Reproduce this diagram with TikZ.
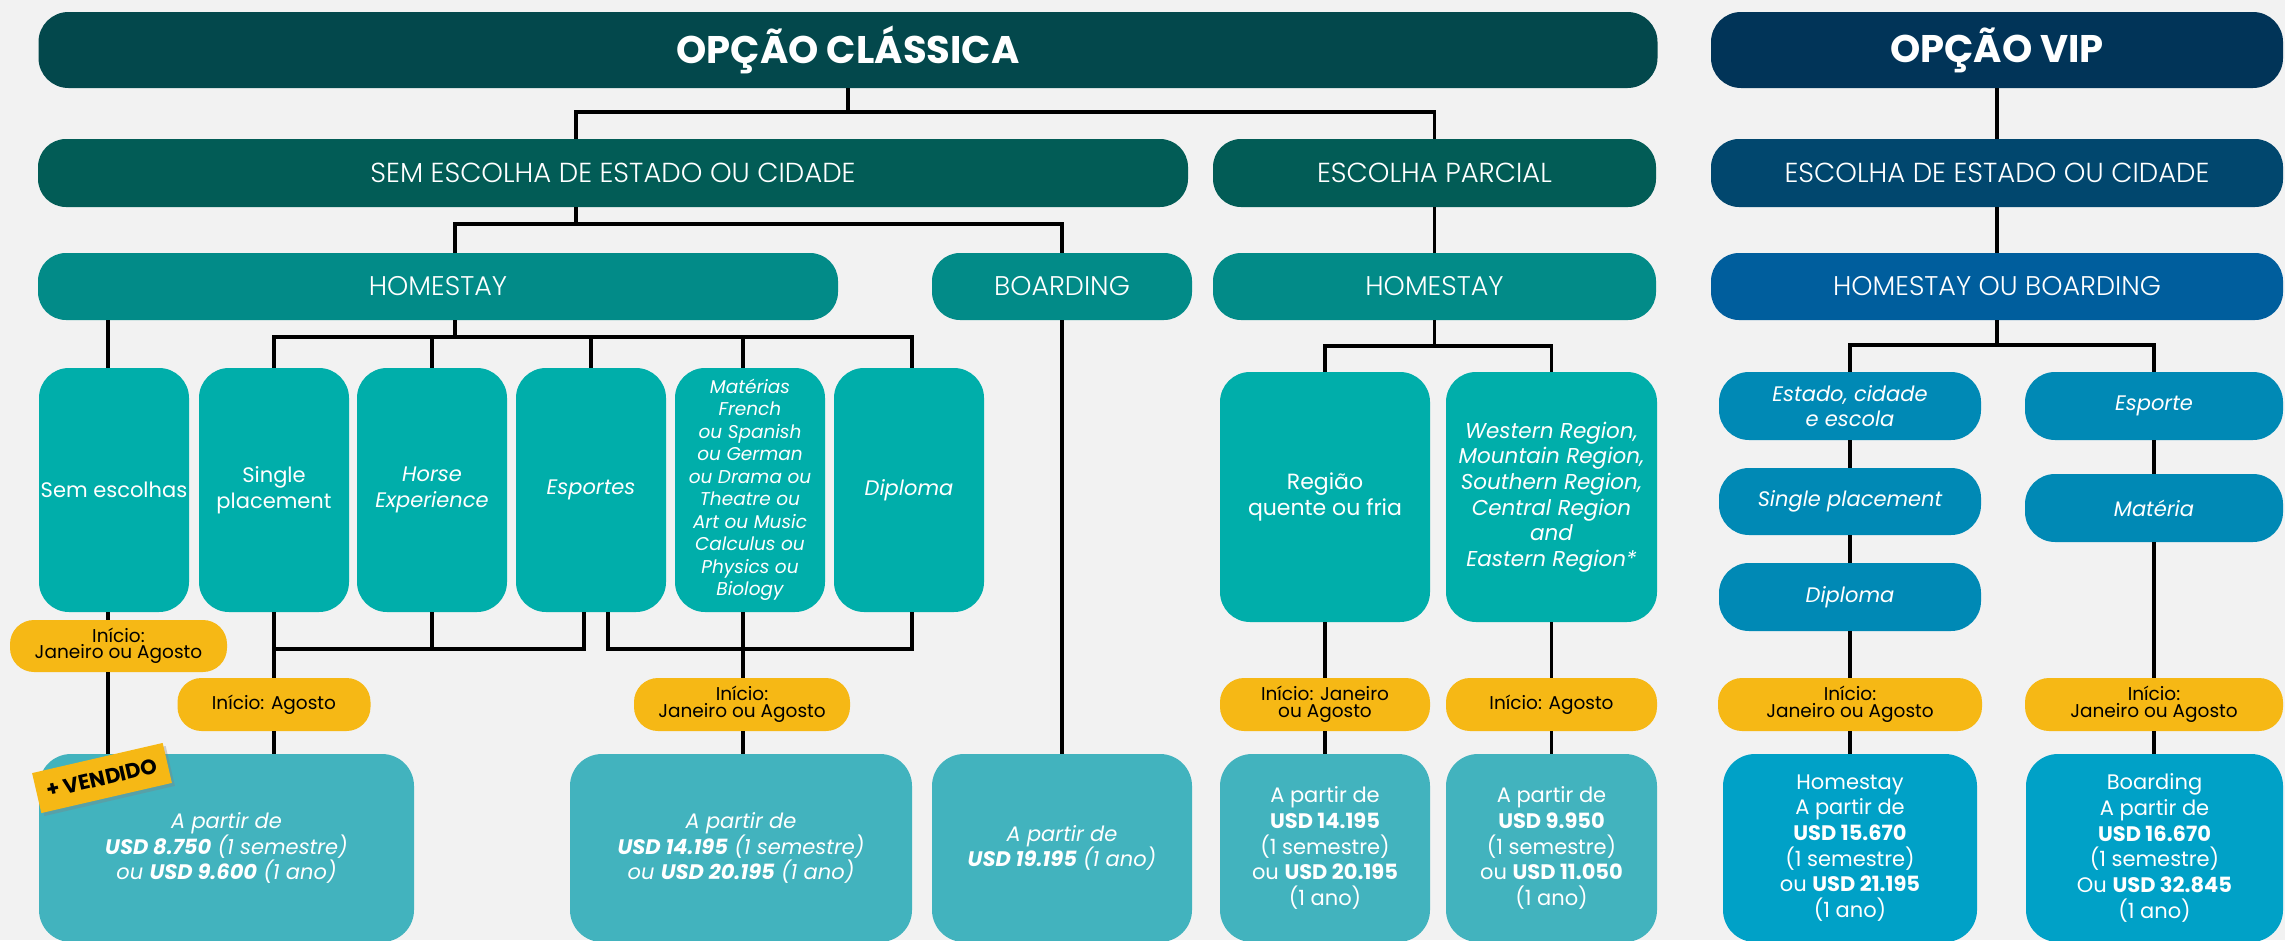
\documentclass[tikz,border=0pt]{standalone}
\usepackage{fontspec}
\setmainfont{Poppins}
\newfontfamily\plight{Poppins Light}
\usetikzlibrary{shadows}
\definecolor{bgc}{HTML}{F2F2F2}
\definecolor{ctop}{HTML}{03484C}
\definecolor{cviptop}{HTML}{013458}
\definecolor{crow2}{HTML}{025C56}
\definecolor{cvip2}{HTML}{01476E}
\definecolor{crow3}{HTML}{028B88}
\definecolor{cvip3}{HTML}{005E9D}
\definecolor{crow4}{HTML}{00AEAA}
\definecolor{cvip4}{HTML}{0089B5}
\definecolor{cyel}{HTML}{F6B815}
\definecolor{cprice}{HTML}{42B3BE}
\definecolor{cvipprice}{HTML}{00A1C7}
\tikzset{
  bx/.style={rectangle, inner sep=0pt, text=white, align=center},
  topbar/.style={bx, rounded corners=30pt, minimum height=76pt, font=\fontsize{38.5}{42}\selectfont\bfseries},
  lvl/.style={bx, rounded corners=28pt, minimum height=68pt, font=\plight\fontsize{27.5}{31}\selectfont},
  lvlb/.style={lvl, minimum height=67pt, font=\plight\fontsize{27}{30}\selectfont},
  tall/.style={bx, fill=crow4, rounded corners=30pt, minimum height=244pt, minimum width=150pt, font=\fontsize{21}{25.5}\selectfont},
  tallit/.style={font=\fontsize{21}{25.5}\selectfont\itshape},
  vsm/.style={bx, fill=cvip4, rounded corners=30pt, minimum height=68pt, font=\fontsize{21}{25.7}\selectfont\itshape},
  yel/.style={bx, fill=cyel, text=black, rounded corners=24pt, minimum height=53pt, font=\fontsize{18.5}{16.5}\selectfont},
  price/.style={bx, fill=cprice, rounded corners=32pt, minimum height=188pt, font=\fontsize{21}{25.7}\selectfont},
  priceit/.style={font=\fontsize{21}{25.7}\selectfont\itshape},
  vprice/.style={price, fill=cvipprice},
  ln/.style={line width=3.5pt, black},
  tagbox/.style={rectangle, fill=cyel, text=black, inner sep=0pt, minimum width=134pt, minimum height=41pt, font=\fontsize{21}{24}\selectfont\bfseries, drop shadow={shadow xshift=3pt, shadow yshift=-3pt, opacity=0.35}}
}
\begin{document}
\begin{tikzpicture}[x=1pt,y=-1pt]
\fill[bgc] (0,0) rectangle (2285,940);
\clip (0,0) rectangle (2285,940);

% row 1
\node[topbar, fill=ctop, minimum width=1619pt] (cla) at (848,50) {OPÇÃO CLÁSSICA};
\node[topbar, fill=cviptop, minimum width=572pt] (vip) at (1997,50) {OPÇÃO VIP};

% row 2
\node[lvl, fill=crow2, minimum width=1150pt] (sem) at (613,173) {SEM ESCOLHA DE ESTADO OU CIDADE};
\node[lvl, fill=crow2, minimum width=443pt] (parc) at (1434.5,173) {ESCOLHA PARCIAL};
\node[lvl, fill=cvip2, minimum width=572pt] (vest) at (1997,173) {ESCOLHA DE ESTADO OU CIDADE};

% row 3
\node[lvlb, fill=crow3, minimum width=800pt] (home) at (438,286.5) {HOMESTAY};
\node[lvlb, fill=crow3, minimum width=260pt] (board) at (1062,286.5) {BOARDING};
\node[lvlb, fill=crow3, minimum width=443pt] (home2) at (1434.5,286.5) {HOMESTAY};
\node[lvlb, fill=cvip3, minimum width=572pt] (hob) at (1997,286.5) {HOMESTAY OU BOARDING};

% row 4 classic
\node[tall] (r4a) at (114,490) {Sem escolhas};
\node[tall] (r4b) at (274,490) {Single\\placement};
\node[tall, tallit] (r4c) at (432,490) {Horse\\Experience};
\node[tall, tallit] (r4d) at (591,490) {Esportes};
\node[tall, font=\fontsize{18.5}{22.5}\selectfont\itshape] (r4e) at (750,490) {Matérias\\French\\ou Spanish\\ou German\\ou Drama ou\\Theatre ou\\Art ou Music\\Calculus ou\\Physics ou\\Biology};
\node[tall, tallit] (r4f) at (909,490) {Diploma};

% row 4 parcial
\node[tall, font=\fontsize{22}{26}\selectfont, minimum width=210pt, minimum height=250pt] (reg) at (1325,497) {Região\\quente ou fria};
\node[tall, font=\fontsize{21.5}{25.7}\selectfont\itshape, minimum width=211pt, minimum height=250pt] (west) at (1551.5,497) {Western Region,\\Mountain Region,\\Southern Region,\\Central Region\\and\\Eastern Region*};

% row 4 vip
\node[vsm, minimum width=262pt] (est) at (1850,406) {Estado, cidade\\e escola};
\node[vsm, minimum width=262pt, minimum height=67pt] (vsp) at (1850,501.5) {Single placement};
\node[vsm, minimum width=262pt] (vdip) at (1850,597) {Diploma};
\node[vsm, minimum width=258pt] (esp) at (2154,406) {Esporte};
\node[vsm, minimum width=258pt] (mat) at (2154,508) {Matéria};

% yellow
\node[yel, minimum width=217pt, minimum height=52pt] (y1) at (118.5,646) {Início:\\Janeiro ou Agosto};
\node[yel, minimum width=193pt] (y2) at (274,704.5) {Início: Agosto};
\node[yel, minimum width=216pt] (y3) at (742,704.5) {Início:\\Janeiro ou Agosto};
\node[yel, minimum width=210pt] (y4) at (1325,704.5) {Início: Janeiro\\ou Agosto};
\node[yel, minimum width=211pt] (y5) at (1551.5,704.5) {Início: Agosto};
\node[yel, minimum width=264pt] (y6) at (1850,704.5) {Início:\\Janeiro ou Agosto};
\node[yel, minimum width=258pt] (y7) at (2154,704.5) {Início:\\Janeiro ou Agosto};

% prices
\node[price, priceit, minimum width=375pt] (p1) at (226.5,848) {A partir de\\\textbf{USD 8.750} (1 semestre)\\ou \textbf{USD 9.600} (1 ano)};
\node[price, priceit, minimum width=342pt] (p2) at (741,848) {A partir de\\\textbf{USD 14.195} (1 semestre)\\ou \textbf{USD 20.195} (1 ano)};
\node[price, priceit, minimum width=260pt] (p3) at (1062,848) {A partir de\\\textbf{USD 19.195} (1 ano)};
\node[price, minimum width=210pt] (p4) at (1325,848) {A partir de\\\textbf{USD 14.195}\\(1 semestre)\\ou \textbf{USD 20.195}\\(1 ano)};
\node[price, minimum width=211pt] (p5) at (1551.5,848) {A partir de\\\textbf{USD 9.950}\\(1 semestre)\\ou \textbf{USD 11.050}\\(1 ano)};
\node[vprice, minimum width=254pt] (p6) at (1850,848) {Homestay\\A partir de\\\textbf{USD 15.670}\\(1 semestre)\\ou \textbf{USD 21.195}\\(1 ano)};
\node[vprice, minimum width=257pt] (p7) at (2154.5,848) {Boarding\\A partir de\\\textbf{USD 16.670}\\(1 semestre)\\Ou \textbf{USD 32.845}\\(1 ano)};

\node[tagbox, rotate=13] (vend) at (102,778) {+ VENDIDO};

% connectors
\coordinate (j1a) at (576,112);
\coordinate (j1b) at (1434.5,112);
\draw[ln] (cla.south) -- (cla.south |- j1a);
\draw[ln] (sem.north -| j1a) -- (j1a) -- (j1b) -- (parc.north);
\coordinate (j2a) at (455,224);
\coordinate (j2b) at (1062,224);
\draw[ln] (sem.south -| j1a) -- (j1a |- j2a);
\draw[ln] (home.north -| j2a) -- (j2a) -- (j2b) -- (board.north);
\draw[ln] (parc.south) -- (home2.north);
\draw[ln] (vip.south) -- (vest.north);
\draw[ln] (vest.south) -- (hob.north);

\coordinate (t1) at (108,340);
\draw[ln] (home.south -| t1) -- (r4a.north -| t1);
\coordinate (b1) at (455,337);
\coordinate (bR) at (912,337);
\coordinate (e1) at (743,337);
\draw[ln] (home.south -| b1) -- (b1);
\draw[ln] (r4b.north) -- (r4b.north |- b1) -- (bR) -- (r4f.north -| bR);
\draw[ln] (r4c.north) -- (r4c.north |- b1);
\draw[ln] (r4d.north) -- (r4d.north |- b1);
\draw[ln] (r4e.north -| e1) -- (e1);

\coordinate (g1b) at (584,649);
\coordinate (g2a) at (608,649);
\coordinate (g2b) at (912,649);
\draw[ln] (r4b.south) -- (y2.north);
\draw[ln] (r4b.south |- g1b) -- (g1b) -- (r4d.south -| g1b);
\draw[ln] (r4c.south) -- (r4c.south |- g1b);
\draw[ln] (r4f.south -| g2b) -- (g2b) -- (g2a) -- (r4d.south -| g2a);
\draw[ln] (r4e.south -| e1) -- (y3.north -| e1);
\draw[ln] (r4a.south -| t1) -- (y1.north -| t1);
\draw[ln] (y1.south -| t1) -- (p1.north -| t1);
\draw[ln] (y2.south) -- (p1.north -| y2.south);
\draw[ln] (y3.south -| e1) -- (p2.north -| e1);
\draw[ln] (board.south) -- (p3.north);

\coordinate (pb) at (1434.5,346);
\draw[ln] (home2.south) -- (pb);
\draw[ln] (reg.north) -- (reg.north |- pb) -- (west.north |- pb) -- (west.north);
\draw[ln] (reg.south) -- (y4.north);
\draw[ln] (y4.south) -- (p4.north);
\draw[ln] (west.south) -- (y5.north);
\draw[ln] (y5.south) -- (p5.north);

\coordinate (vb) at (1997,345);
\draw[ln] (hob.south) -- (vb);
\draw[ln] (est.north) -- (est.north |- vb) -- (esp.north |- vb) -- (esp.north);
\draw[ln] (est.south) -- (vsp.north);
\draw[ln] (vsp.south) -- (vdip.north);
\draw[ln] (vdip.south) -- (y6.north);
\draw[ln] (y6.south) -- (p6.north);
\draw[ln] (esp.south) -- (mat.north);
\draw[ln] (mat.south) -- (y7.north);
\draw[ln] (y7.south) -- (p7.north -| y7.south);
\end{tikzpicture}
\end{document}
